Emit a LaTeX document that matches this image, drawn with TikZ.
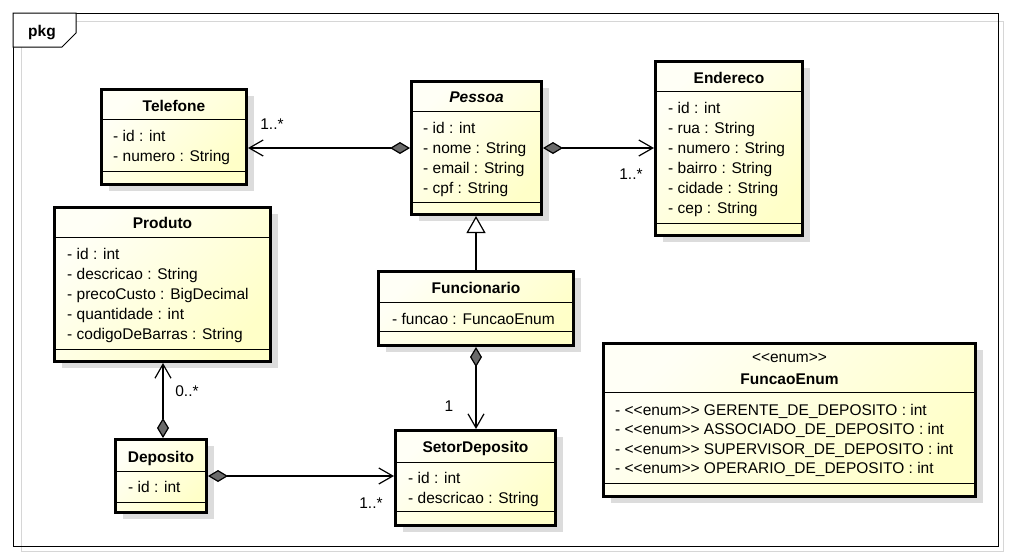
\documentclass[tikz,border=0pt]{standalone}
\usepackage{fontspec}
\setmainfont{Liberation Sans}
\usepackage{tikz}
\usetikzlibrary{arrows.meta, positioning, shadows, calc}
\usepackage{xcolor}
\definecolor{classlight}{HTML}{FFFFF6}
\definecolor{classdark}{HTML}{FFFFC8}
\definecolor{shadowgray}{HTML}{DCDCDC}
\definecolor{diamondgray}{HTML}{6A6A6A}
\definecolor{framegray}{HTML}{D6D6D6}
\newcommand{\umlfont}{\fontsize{15.5}{20}\selectfont}
\newcommand{\stereo}{<\kern0pt<enum>\kern0pt>}

\begin{document}
\begin{tikzpicture}[
    x=1pt, y=-1pt,
    umlclass/.style={rectangle, draw=black, line width=3pt,
                     top color=classlight, bottom color=classdark, shading angle=45,
                     drop shadow={shadow xshift=7pt, shadow yshift=-6pt,
                                  fill=shadowgray, opacity=1}},
    sep/.style={line width=1pt, black},
    title/.style={font=\umlfont\bfseries, anchor=base, inner sep=0pt},
    attrs/.style={font=\umlfont, anchor=north west, inner sep=0pt, align=left},
    mult/.style={font=\umlfont, inner sep=0pt},
    comp/.style={{Diamond[length=20pt, width=12pt, fill=diamondgray]}-{Straight Barb[length=14pt, width=16pt]},
                 line width=1.2pt},
    gen/.style={-{Triangle[open, length=17pt, width=19pt, fill=white]}, line width=1.2pt},
]

\useasboundingbox (0,0) rectangle (1010,558);
\fill[white] (0,0) rectangle (1010,558);

% Package frame
\draw[framegray, line width=1pt] (21,21) rectangle (1003,551);
\draw[black, line width=1pt] (13,13) rectangle (998,546);
\filldraw[fill=white, draw=black, line width=1pt] (13,13) -- (13,47) -- (62,47) -- (76,33) -- (76,13) -- cycle;
\node[title] (pkg_name) at (42,36) {pkg};

% Telefone
\node[umlclass, minimum width=145pt, minimum height=95pt] (tel) at (174,137) {};
\draw[sep] ([yshift=-31pt]tel.north west) -- ([yshift=-31pt]tel.north east);
\draw[sep] ([yshift=-83pt]tel.north west) -- ([yshift=-83pt]tel.north east);
\node[title] (tel_name) at ([yshift=-23.5pt]tel.north) {Telefone};
\node[attrs] (tel_attrs) at ([xshift=13pt, yshift=-42.5pt]tel.north west)
      {- id : int\\- numero : String};

% Pessoa
\node[umlclass, minimum width=130pt, minimum height=133pt] (pessoa) at (476.5,148) {};
\draw[sep] ([yshift=-31pt]pessoa.north west) -- ([yshift=-31pt]pessoa.north east);
\draw[sep] ([yshift=-122pt]pessoa.north west) -- ([yshift=-122pt]pessoa.north east);
\node[title, font=\umlfont\bfseries\itshape] (pessoa_name) at ([yshift=-22.5pt]pessoa.north) {Pessoa};
\node[attrs] (pessoa_attrs) at ([xshift=13pt, yshift=-42.5pt]pessoa.north west)
      {- id : int\\- nome : String\\- email : String\\- cpf : String};

% Endereco
\node[umlclass, minimum width=147pt, minimum height=174pt] (endereco) at (729,148.5) {};
\draw[sep] ([yshift=-31pt]endereco.north west) -- ([yshift=-31pt]endereco.north east);
\draw[sep] ([yshift=-163pt]endereco.north west) -- ([yshift=-163pt]endereco.north east);
\node[title] (endereco_name) at ([yshift=-23.5pt]endereco.north) {Endereco};
\node[attrs] (endereco_attrs) at ([xshift=14pt, yshift=-42.5pt]endereco.north west)
      {- id : int\\- rua : String\\- numero : String\\- bairro : String\\- cidade : String\\- cep : String};

% Produto
\node[umlclass, minimum width=216pt, minimum height=154pt] (produto) at (162.5,284.5) {};
\draw[sep] ([yshift=-31pt]produto.north west) -- ([yshift=-31pt]produto.north east);
\draw[sep] ([yshift=-143pt]produto.north west) -- ([yshift=-143pt]produto.north east);
\node[title] (produto_name) at ([yshift=-22.5pt]produto.north) {Produto};
\node[attrs] (produto_attrs) at ([xshift=14pt, yshift=-42.5pt]produto.north west)
      {- id : int\\- descricao : String\\- precoCusto : BigDecimal\\- quantidade : int\\- codigoDeBarras : String};

% Funcionario
\node[umlclass, minimum width=195pt, minimum height=74pt] (func) at (476,308.5) {};
\draw[sep] ([yshift=-32pt]func.north west) -- ([yshift=-32pt]func.north east);
\draw[sep] ([yshift=-61pt]func.north west) -- ([yshift=-61pt]func.north east);
\node[title] (func_name) at ([yshift=-23.5pt]func.north) {Funcionario};
\node[attrs] (func_attrs) at ([xshift=15pt, yshift=-43.5pt]func.north west)
      {- funcao : FuncaoEnum};

% SetorDeposito
\node[umlclass, minimum width=160pt, minimum height=95pt] (setor) at (475.5,478) {};
\draw[sep] ([yshift=-33pt]setor.north west) -- ([yshift=-33pt]setor.north east);
\draw[sep] ([yshift=-82pt]setor.north west) -- ([yshift=-82pt]setor.north east);
\node[title] (setor_name) at ([yshift=-23.5pt]setor.north) {SetorDeposito};
\node[attrs] (setor_attrs) at ([xshift=14pt, yshift=-43.5pt]setor.north west)
      {- id : int\\- descricao : String};

% Deposito
\node[umlclass, minimum width=91pt, minimum height=73pt] (deposito) at (161,476) {};
\draw[sep] ([yshift=-33pt]deposito.north west) -- ([yshift=-33pt]deposito.north east);
\draw[sep] ([yshift=-64pt]deposito.north west) -- ([yshift=-64pt]deposito.north east);
\node[title] (deposito_name) at ([yshift=-24.5pt]deposito.north) {Deposito};
\node[attrs] (deposito_attrs) at ([xshift=14pt, yshift=-43.5pt]deposito.north west)
      {- id : int};

% FuncaoEnum
\node[umlclass, minimum width=372pt, minimum height=153pt] (funcao_enum) at (789.5,420) {};
\draw[sep] ([yshift=-50pt]funcao_enum.north west) -- ([yshift=-50pt]funcao_enum.north east);
\draw[sep] ([yshift=-141pt]funcao_enum.north west) -- ([yshift=-141pt]funcao_enum.north east);
\node[title, font=\umlfont] (funcao_stereo) at ([yshift=-20pt]funcao_enum.north) {\stereo};
\node[title] (funcao_name) at ([yshift=-42.5pt]funcao_enum.north) {FuncaoEnum};
\node[attrs, font=\fontsize{15.5}{19.3}\selectfont] (funcao_attrs) at ([xshift=13pt, yshift=-62pt]funcao_enum.north west)
      {- \stereo{} GERENTE\_DE\_DEPOSITO : int\\- \stereo{} ASSOCIADO\_DE\_DEPOSITO : int\\
       - \stereo{} SUPERVISOR\_DE\_DEPOSITO : int\\- \stereo{} OPERARIO\_DE\_DEPOSITO : int};

% Associations
\draw[comp] (pessoa.west) -- (pessoa.west -| tel.east);
\draw[comp] (pessoa.east) -- (pessoa.east -| endereco.west);
\draw[gen] (func.north) -- (func.north |- pessoa.south);
\draw[comp] (func.south) -- (func.south |- setor.north);
\draw[comp] ([xshift=2pt]deposito.north) -- ([xshift=2pt]deposito.north |- produto.south);
\draw[comp] (deposito.east) -- (deposito.east -| setor.west);

% Multiplicities
\node[mult] (m_tel) at (272,124) {1..*};
\node[mult] (m_endereco) at (631,174) {1..*};
\node[mult] (m_setor_top) at (449,406) {1};
\node[mult] (m_produto) at (187,391) {0..*};
\node[mult] (m_setor_left) at (371,503) {1..*};

\end{tikzpicture}
\end{document}
